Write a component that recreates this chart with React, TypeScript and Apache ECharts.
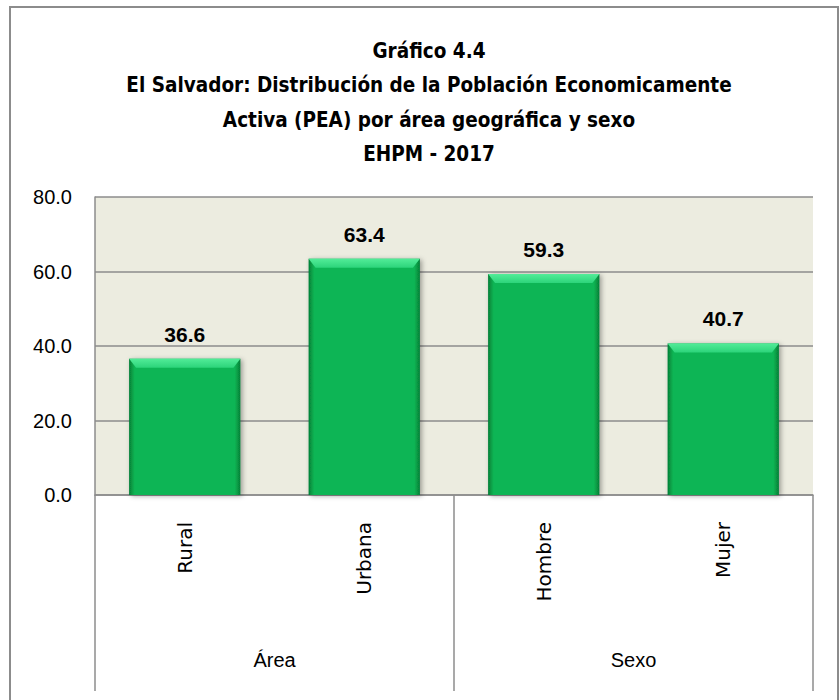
import React, { useEffect, useRef } from 'react';
import * as echarts from 'echarts';

const titleLines = [
  'Gráfico 4.4',
  'El Salvador: Distribución de la Población Economicamente',
  'Activa (PEA) por área geográfica y sexo',
  'EHPM - 2017',
];
const categories = ['Rural', 'Urbana', 'Hombre', 'Mujer'];
const values = [36.6, 63.4, 59.3, 40.7];
const groups = ['Área', 'Sexo'];
const yMin = 0;
const yMax = 80;
const yInterval = 20;

const GRAY = '#8C8C8C';
const NARROW = "'DejaVu Sans Condensed', 'Liberation Sans', sans-serif";

export default function App() {
  const ref = useRef<HTMLDivElement>(null);
  useEffect(() => {
    const chart = echarts.init(ref.current!, null, { renderer: 'svg' });
    const barColor = new echarts.graphic.LinearGradient(0, 0, 1, 0, [
      { offset: 0, color: '#067F36' },
      { offset: 0.05, color: '#08B554' },
      { offset: 0.95, color: '#08B554' },
      { offset: 1, color: '#067F36' },
    ]);
    chart.setOption({
      animation: false,
      backgroundColor: '#ffffff',
      title: {
        text: titleLines.join('\n'),
        left: 424,
        textAlign: 'center',
        top: 29,
        textStyle: {
          fontFamily: NARROW,
          fontSize: 20.5,
          fontWeight: 'bold',
          lineHeight: 34.3,
          color: '#000',
        },
      },
      graphic: [
        {
          type: 'rect',
          shape: { x: 10, y: 7, width: 828, height: 710 },
          style: { fill: 'none', stroke: GRAY, lineWidth: 2 },
          silent: true,
        },
      ],
      grid: {
        left: 95,
        right: 27,
        top: 197,
        bottom: 205,
        show: true,
        backgroundColor: '#ECECE0',
        borderWidth: 0,
      },
      xAxis: [
        {
          type: 'category',
          data: categories,
          position: 'bottom',
          axisLine: { show: true, lineStyle: { color: GRAY, width: 1.5 } },
          axisTick: { show: false },
          axisLabel: {
            rotate: 90,
            margin: 27,
            fontSize: 20,
            fontFamily: 'DejaVu Sans',
            color: '#000',
          },
        },
        {
          type: 'category',
          data: groups,
          position: 'bottom',
          axisLine: { show: false },
          axisTick: { show: true, length: 196, lineStyle: { color: GRAY, width: 1.5 } },
          axisLabel: {
            margin: 155,
            fontSize: 20,
            fontFamily: 'Liberation Sans',
            color: '#000',
          },
        },
      ],
      yAxis: {
        type: 'value',
        min: yMin,
        max: yMax,
        interval: yInterval,
        axisLine: { show: true, lineStyle: { color: GRAY, width: 1.5 } },
        axisTick: { show: false },
        splitLine: { lineStyle: { color: GRAY, width: 1.5 } },
        axisLabel: {
          formatter: (v: number) => v.toFixed(1),
          margin: 23,
          fontSize: 20,
          fontFamily: 'Liberation Sans',
          color: '#000',
        },
      },
      series: [
        {
          type: 'bar',
          data: values,
          barWidth: '62%',
          itemStyle: {
            color: barColor,
            shadowColor: 'rgba(0,0,0,0.35)',
            shadowBlur: 5,
            shadowOffsetX: 2,
            shadowOffsetY: 1,
          },
          label: {
            show: true,
            position: 'top',
            distance: 14,
            formatter: (p: any) => Number(p.value).toFixed(1),
            fontSize: 21,
            fontWeight: 'bold',
            fontFamily: 'Liberation Sans',
            color: '#000',
          },
          z: 2,
        },
        {
          type: 'custom',
          silent: true,
          z: 3,
          data: values.map((v, i) => [i, v]),
          renderItem: (params: any, api: any) => {
            const idx = api.value(0);
            const val = api.value(1);
            const pt = api.coord([idx, val]);
            const band = api.size([1, 0])[0];
            const w = band * 0.62;
            const x0 = pt[0] - w / 2;
            const x1 = pt[0] + w / 2;
            const y = pt[1];
            const h = 9;
            const d = 7;
            return {
              type: 'polygon',
              shape: {
                points: [
                  [x0, y],
                  [x1, y],
                  [x1 - d, y + h],
                  [x0 + d, y + h],
                ],
              },
              style: {
                fill: new echarts.graphic.LinearGradient(0, 0, 0, 1, [
                  { offset: 0, color: '#52EC98' },
                  { offset: 1, color: '#2CD47A' },
                ]),
              },
            };
          },
        },
      ],
    });
    return () => chart.dispose();
  }, []);
  return (
    <div
      ref={ref}
      style={{ position: 'absolute', left: 0, top: 0, width: 840, height: 700 }}
    />
  );
}
